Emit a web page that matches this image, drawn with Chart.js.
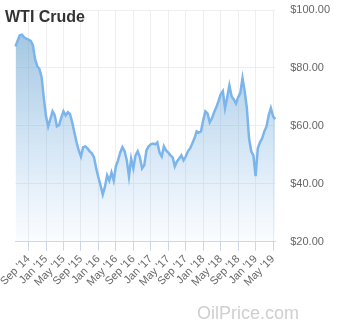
<!DOCTYPE html>
<html>
<head>
<meta charset="utf-8">
<script src="https://cdn.jsdelivr.net/npm/chart.js@4/dist/chart.umd.min.js"></script>
<style>
  body { margin: 0; background: #fff; }
  #wrap { width: 345px; height: 327px; position: relative; }
</style>
</head>
<body>
<div id="wrap"><canvas id="wtiChart"></canvas></div>
<script>
// WTI price, one value per half month, starting 1 Jun 2014
var prices = [
    87.4, 89.4, 91.3, 91.5, 90.6, 90.1, 89.8, 89.3, 87.9, 83.0,
    80.6, 79.6, 76.8, 69.5, 63.3, 59.8, 62.3, 65.0, 63.6, 59.8,
    60.2, 62.9, 65.0, 63.6, 64.7, 64.0, 61.2, 57.7, 54.3, 51.5,
    49.4, 52.6, 52.9, 52.2, 51.2, 50.5, 49.1, 45.3, 42.2, 39.4,
    36.3, 39.0, 42.9, 41.1, 43.9, 41.1, 46.0, 48.1, 50.8, 52.6,
    51.2, 48.1, 42.5, 48.7, 45.3, 49.8, 51.2, 49.1, 45.3, 46.4,
    51.5, 52.9, 53.6, 53.9, 53.6, 54.3, 50.8, 49.4, 52.9, 51.5,
    50.8, 49.8, 49.1, 46.0, 47.7, 48.7, 49.8, 48.1, 49.4, 51.2,
    52.2, 53.9, 55.7, 58.1, 57.7, 58.1, 61.9, 65.0, 64.3, 61.2,
    62.6, 64.7, 66.4, 68.5, 70.9, 72.0, 66.1, 69.9, 74.0, 70.2,
    69.1, 67.7, 69.9, 71.3, 76.5, 72.0, 66.1, 55.7, 51.2, 49.8,
    42.6, 52.2, 54.3, 55.7, 58.1, 59.8, 63.6, 66.1, 63.3, 62.3
];
var monthNames = ['Jan','Feb','Mar','Apr','May','Jun','Jul','Aug','Sep','Oct','Nov','Dec'];
var tickMonths = ['01', '05', '09'];
var yTicks = [20, 40, 60, 80, 100];

// dates for each half month slot
var dates = [];
for (var k = 0; k < prices.length; k++) {
    var m = 5 + Math.floor(k / 2);
    var yr = 2014 + Math.floor(m / 12);
    var mo = (m % 12) + 1;
    dates.push(yr + '-' + (mo < 10 ? '0' + mo : mo) + '-' + (k % 2 ? '15' : '01'));
}

var overlayText = {
    id: 'overlayText',
    afterDraw: function(chart) {
        var c = chart.ctx;
        c.save();
        c.textBaseline = 'alphabetic';
        c.textAlign = 'left';
        c.fillStyle = '#333';
        c.font = 'bold 16px "Liberation Sans", Arial, sans-serif';
        c.fillText('WTI Crude', 5, 22);
        c.fillStyle = '#cfcfcf';
        c.font = '18px "Liberation Sans", Arial, sans-serif';
        c.fillText('OilPrice.com', 197, 319);
        c.restore();
    }
};

var ctx = document.getElementById('wtiChart');
var chart = new Chart(ctx, {
    type: 'line',
    data: {
        labels: dates,
        datasets: [{
            data: prices,
            borderColor: '#7cb5ec',
            borderWidth: 2.5,
            pointRadius: 0,
            tension: 0,
            fill: 'start',
            backgroundColor: function(context) {
                var area = context.chart.chartArea;
                if (!area) return 'rgba(124,181,236,0.4)';
                var g = context.chart.ctx.createLinearGradient(0, area.top, 0, area.bottom);
                g.addColorStop(0, 'rgba(110,165,205,0.7)');
                g.addColorStop(1, 'rgba(124,181,236,0.03)');
                return g;
            }
        }]
    },
    options: {
        responsive: true,
        maintainAspectRatio: false,
        animation: false,
        layout: { padding: { left: 8, right: 15, top: 10, bottom: 36 } },
        plugins: {
            legend: { display: false },
            tooltip: { enabled: false }
        },
        scales: {
            x: {
                ticks: {
                    autoSkip: false,
                    minRotation: 45,
                    maxRotation: 45,
                    padding: 2,
                    color: '#666',
                    font: { size: 11, family: '"Liberation Sans", Arial, sans-serif' },
                    callback: function(value) {
                        var parts = this.getLabelForValue(value).split('-');
                        if (parts[2] === '01' && tickMonths.indexOf(parts[1]) >= 0) {
                            return monthNames[+parts[1] - 1] + " '" + parts[0].slice(2);
                        }
                        return null;
                    }
                },
                grid: { color: '#eeeeee', tickColor: '#ccd6eb', tickLength: 9 },
                border: { color: '#ccd6eb' }
            },
            y: {
                position: 'right',
                min: 20,
                max: 100,
                afterBuildTicks: function(scale) {
                    scale.ticks = yTicks.map(function(v) { return { value: v }; });
                },
                ticks: {
                    padding: 0,
                    color: '#666',
                    font: { size: 11, family: '"Liberation Sans", Arial, sans-serif' },
                    callback: function(v) { return '$' + v.toFixed(2); }
                },
                grid: { color: '#eeeeee', tickColor: 'rgba(0,0,0,0)', tickLength: 15 },
                border: { display: false }
            }
        }
    },
    plugins: [overlayText]
});
</script>
</body>
</html>
